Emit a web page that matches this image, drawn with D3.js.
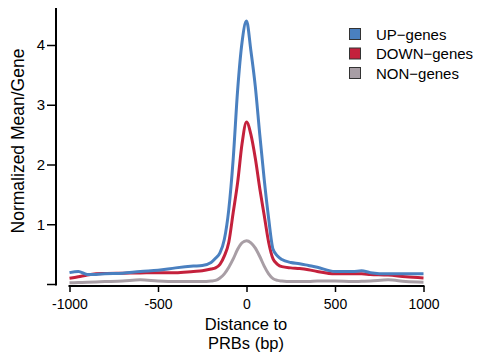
<!DOCTYPE html>
<html><head><meta charset="utf-8">
<script src="https://cdn.jsdelivr.net/npm/d3@7"></script>
<style>body{margin:0;background:#fff}svg{display:block}text{font-family:"Liberation Sans",Arial,sans-serif}</style>
</head><body><svg id="c" width="484" height="353"></svg>
<script>
const positions = [-1000,-950,-900,-850,-800,-700,-600,-500,-400,-300,-250,-200,-175,-150,-125,-100,-75,-50,-25,0,25,50,75,100,125,150,175,200,250,300,350,400,500,600,650,700,800,900,1000];
const upGenes   = [0.19,0.21,0.16,0.16,0.17,0.18,0.21,0.23,0.27,0.30,0.31,0.36,0.43,0.52,0.75,1.25,2.1,3.25,4.05,4.40,3.9,3.3,2.5,1.75,1.1,0.58,0.47,0.41,0.36,0.34,0.31,0.28,0.21,0.21,0.22,0.19,0.17,0.17,0.17];
const downGenes = [0.095,0.12,0.15,0.17,0.175,0.18,0.185,0.19,0.19,0.21,0.22,0.25,0.27,0.33,0.47,0.7,1.2,1.7,2.35,2.71,2.5,2.1,1.6,1.15,0.7,0.42,0.33,0.29,0.27,0.26,0.24,0.21,0.17,0.17,0.17,0.16,0.15,0.12,0.10];
const nonGenes  = [0.02,0.025,0.03,0.035,0.04,0.05,0.07,0.05,0.04,0.04,0.04,0.05,0.06,0.1,0.17,0.28,0.42,0.58,0.69,0.725,0.69,0.6,0.46,0.3,0.17,0.09,0.06,0.05,0.04,0.04,0.04,0.05,0.05,0.04,0.045,0.05,0.07,0.04,0.03];
const seriesNames = ["UP\u2212genes","DOWN\u2212genes","NON\u2212genes"];
const seriesColors = ["#4a80c0","#c4213c","#a89ea5"];
const xTicks = [-1000,-500,0,500,1000];
const yTicks = [1,2,3,4];

const svg = d3.select("#c");
const x = d3.scaleLinear().domain([-1000,1000]).range([69.5,423.5]);
const y = d3.scaleLinear().domain([0,4]).range([284,45]);

// y axis
const ya = svg.append("g").attr("transform","translate(56,0)")
  .call(d3.axisLeft(y).tickValues([0,...yTicks]).tickSize(9).tickSizeOuter(0).tickFormat(d=>d===0?"":String(d)));
ya.select(".domain").remove();
ya.selectAll(".tick line").attr("stroke","#000").attr("stroke-width",1.5);
ya.selectAll(".tick text").attr("font-size",15).attr("fill","#000").attr("x",-11);
svg.append("line").attr("x1",56).attr("x2",56).attr("y1",y(4.62)).attr("y2",y(0)+1.5).attr("stroke","#000").attr("stroke-width",2);

// x axis
const xa = svg.append("g").attr("transform","translate(0,286)")
  .call(d3.axisBottom(x).tickValues(xTicks).tickSize(6).tickSizeOuter(0).tickFormat(d=>String(d)));
xa.select(".domain").remove();
xa.selectAll(".tick line").attr("stroke","#000").attr("stroke-width",1.5);
xa.selectAll(".tick text").attr("font-size",14).attr("fill","#000").attr("dy","1.0em");
svg.append("line").attr("x1",x(-1000)-1).attr("x2",x(1000)+1).attr("y1",286).attr("y2",286).attr("stroke","#000").attr("stroke-width",2);

// lines
const line = d3.line().x((d,i)=>x(positions[i])).y(d=>y(d)).curve(d3.curveMonotoneX);
[nonGenes, downGenes, upGenes].forEach((s,k)=>{
  const idx = 2-k;
  svg.append("path").attr("d",line(s)).attr("fill","none").attr("stroke",seriesColors[idx]).attr("stroke-width",3).attr("stroke-linejoin","round");
});

// titles
svg.append("text").attr("x",246).attr("y",330).attr("text-anchor","middle").attr("font-size",16.5).text("Distance to");
svg.append("text").attr("x",246).attr("y",349).attr("text-anchor","middle").attr("font-size",16.5).text("PRBs (bp)");
svg.append("text").attr("transform","translate(24,141) rotate(-90)").attr("text-anchor","middle").attr("font-size",17.5).text("Normalized Mean/Gene");

// legend
const lg = svg.append("g");
seriesNames.forEach((n,i)=>{
  const cy = 34 + i*19.5;
  lg.append("rect").attr("x",349.5).attr("y",cy-5.5).attr("width",11).attr("height",11).attr("fill",seriesColors[i]).attr("stroke","#333").attr("stroke-width",1);
  lg.append("text").attr("x",376).attr("y",cy+5.5).attr("font-size",15).text(n);
});
</script></body></html>
